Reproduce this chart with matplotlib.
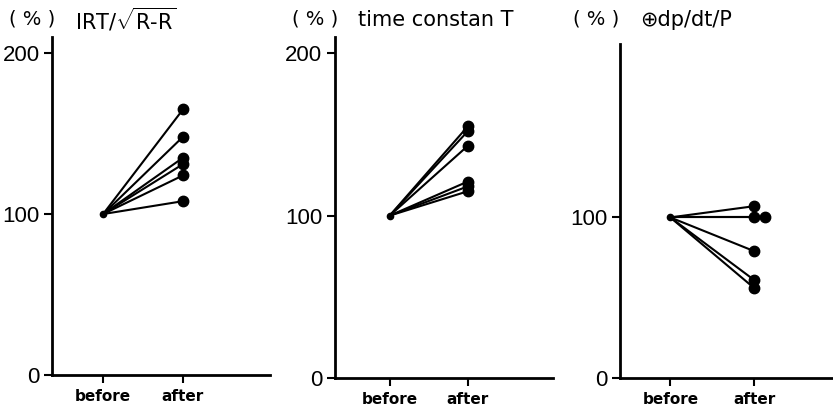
import matplotlib
matplotlib.use("Agg")
import matplotlib.pyplot as plt

# ---- data ----
conditions = ["before", "after"]
irt_before = [100, 100, 100, 100, 100, 100]
irt_after = [165, 148, 135, 131, 124, 108]
tc_before = [100, 100, 100, 100, 100, 100]
tc_after = [155, 152, 143, 121, 118, 115]
dp_before = [100, 100, 100, 100, 100, 100]
dp_after = [107, 100, 100, 79, 61, 56]
dp_after_jitter = [0, 0, 0.13, 0, 0, 0]

titles = [r"IRT/$\sqrt{\mathrm{R\text{-}R}}$", "time constan T", "\u2295dp/dt/P"]
yticks_list = [[0, 100, 200], [0, 100, 200], [0, 100]]

plt.rcParams["font.family"] = ["DejaVu Sans"]
plt.rcParams["mathtext.fontset"] = "custom"
plt.rcParams["mathtext.rm"] = "DejaVu Sans"
plt.rcParams["mathtext.it"] = "DejaVu Sans"

W, H = 833, 412
fig = plt.figure(figsize=(W / 100, H / 100), dpi=100)

def px_axes(l, r, b, t):
    return fig.add_axes([l / W, 1 - b / H, (r - l) / W, (b - t) / H])

# axes geometry in pixels: left, right, bottom(y of 0), top
geoms = [(52, 270, 375, 37), (335, 553, 378, 37), (620, 833, 378, 44)]
ylims = [210, 210, 208]
xlims = [(-0.64, 2.09), (-0.7, 2.09), (-0.6, 1.94)]
befores = [irt_before, tc_before, dp_before]
afters = [irt_after, tc_after, dp_after]
jitters = [[0] * 6, [0] * 6, dp_after_jitter]

for i in range(3):
    l, r, b, t = geoms[i]
    ax = px_axes(l, r, b, t)
    ax.set_xlim(*xlims[i])
    ax.set_ylim(0, ylims[i])
    for yb, ya, j in zip(befores[i], afters[i], jitters[i]):
        ax.plot([0, 1 + j], [yb, ya], color="black", lw=1.5, solid_capstyle="round", zorder=2)
        ax.plot([1 + j], [ya], "o", color="black", ms=7.5, zorder=3)
    ax.plot([0], [befores[i][0]], "o", color="black", ms=4.5, zorder=3)
    for s in ["top", "right"]:
        ax.spines[s].set_visible(False)
    for s in ["left", "bottom"]:
        ax.spines[s].set_linewidth(2.0)
    ax.set_xticks([0, 1])
    ax.set_xticklabels(conditions, fontsize=11, fontweight="bold", family="DejaVu Sans")
    ax.set_yticks(yticks_list[i])
    ax.set_yticklabels([str(v) for v in yticks_list[i]], fontsize=16, family="Liberation Sans")
    ax.tick_params(axis="both", direction="out", length=6, width=1.5, pad=3)
    ax.tick_params(axis="x", pad=4)

# titles
pct_x = [9, 292, 573]
title_x = [75, 358, 640]
for i in range(3):
    fig.text(pct_x[i] / W, 1 - 19 / H, "( % )", fontsize=14, va="center", ha="left")
    fig.text(title_x[i] / W, 1 - 20 / H, titles[i], fontsize=15, va="center", ha="left")

fig.savefig("out.png", dpi=100)
